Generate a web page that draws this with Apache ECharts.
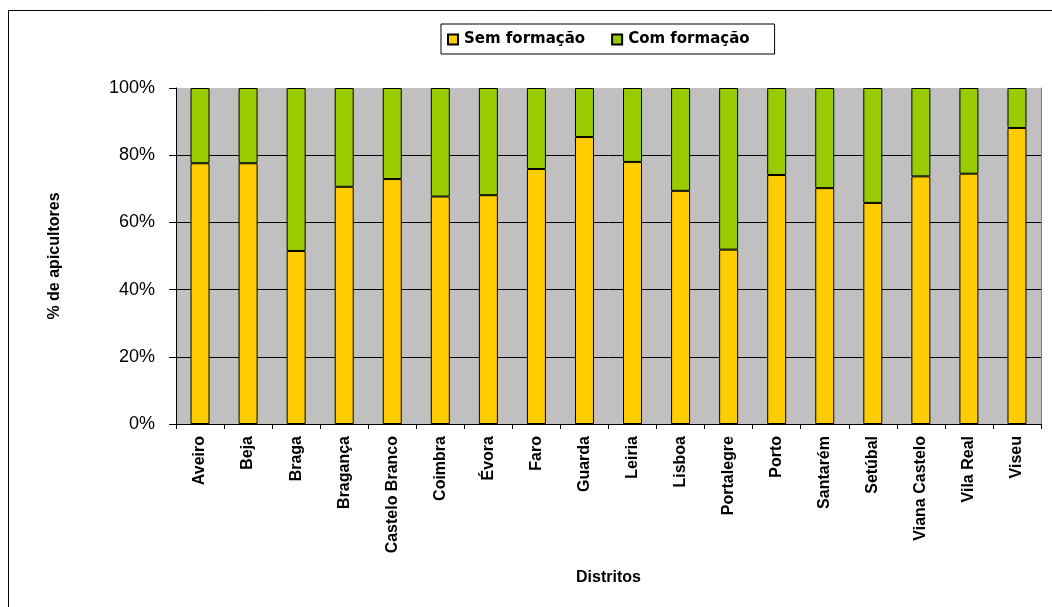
<!DOCTYPE html>
<html>
<head>
<meta charset="utf-8">
<script src="https://cdn.jsdelivr.net/npm/echarts@6/dist/echarts.min.js"></script>
<style>
  html, body { margin: 0; padding: 0; background: #fff; }
  #chart { width: 1052px; height: 607px; }
</style>
</head>
<body>
<div id="chart"></div>
<script>
// Districts and shares (%)
const districts = ['Aveiro', 'Beja', 'Braga', 'Bragança', 'Castelo Branco', 'Coimbra', 'Évora', 'Faro', 'Guarda',
    'Leiria', 'Lisboa', 'Portalegre', 'Porto', 'Santarém', 'Setúbal', 'Viana Castelo', 'Vila Real', 'Viseu'];
const semFormacao = [77.6, 77.6, 51.5, 70.6, 72.9, 67.7, 68.1, 75.9, 85.4, 78.0, 69.4, 51.9, 74.1, 70.2, 65.8, 73.7, 74.5, 88.1];
const comFormacao = [22.4, 22.4, 48.5, 29.4, 27.1, 32.3, 31.9, 24.1, 14.6, 22.0, 30.6, 48.1, 25.9, 29.8, 34.2, 26.3, 25.5, 11.9];
const yTicks = [0, 20, 40, 60, 80, 100];

const FONT = '"Liberation Sans", Arial, sans-serif';

const chart = echarts.init(document.getElementById('chart'));

chart.setOption({
    animation: false,
    graphic: [{
        type: 'rect',
        shape: { x: 8.5, y: 10.5, width: 1070, height: 620 },
        style: { fill: 'none', stroke: '#000', lineWidth: 1 },
        silent: true
    }],
    legend: {
        left: 441,
        top: 24,
        padding: [8, 25, 7, 6],
        itemWidth: 10,
        itemHeight: 10,
        itemGap: 26,
        icon: 'rect',
        borderColor: '#000',
        borderWidth: 1,
        textStyle: { fontFamily: '"DejaVu Sans", sans-serif', fontWeight: 'bold', fontSize: 15, color: '#000', padding: [0, 0, 0, 1] },
        data: ['Sem formação', 'Com formação']
    },
    grid: {
        left: 176,
        right: 11,
        top: 88,
        bottom: 183,
        show: true,
        backgroundColor: '#c0c0c0',
        borderWidth: 0
    },
    xAxis: {
        type: 'category',
        data: districts,
        name: 'Distritos',
        nameLocation: 'middle',
        nameGap: 146,
        nameTextStyle: { fontFamily: FONT, fontWeight: 'bold', fontSize: 16, color: '#000' },
        axisLine: { lineStyle: { color: '#000', width: 1 } },
        axisTick: { show: true, length: 5, lineStyle: { color: '#000' } },
        axisLabel: {
            rotate: 90,
            margin: 12,
            interval: 0,
            fontFamily: FONT,
            fontWeight: 'bold',
            fontSize: 16,
            color: '#000'
        }
    },
    yAxis: [{
        type: 'value',
        min: yTicks[0],
        max: yTicks[yTicks.length - 1],
        interval: 20,
        name: '% de apicultores',
        nameLocation: 'middle',
        nameGap: 113,
        nameTextStyle: { fontFamily: FONT, fontWeight: 'bold', fontSize: 16, color: '#000' },
        axisLine: { show: true, lineStyle: { color: '#000', width: 1 } },
        axisTick: { show: true, length: 7, lineStyle: { color: '#000' } },
        axisLabel: {
            margin: 21,
            formatter: '{value}%',
            fontFamily: FONT,
            fontSize: 18,
            color: '#000'
        },
        splitLine: { show: true, showMaxLine: false, lineStyle: { color: '#000', width: 1 } }
    }, {
        type: 'value',
        position: 'right',
        min: yTicks[0],
        max: yTicks[yTicks.length - 1],
        interval: 20,
        axisLine: { show: true, lineStyle: { color: '#808080', width: 1 } },
        axisTick: { show: false },
        axisLabel: { show: false },
        splitLine: { show: false }
    }],
    series: [
        {
            name: 'Sem formação',
            type: 'bar',
            stack: 'total',
            barWidth: 19,
            data: semFormacao,
            itemStyle: { color: '#ffcc00', borderColor: '#000', borderWidth: 1 }
        },
        {
            name: 'Com formação',
            type: 'bar',
            stack: 'total',
            barWidth: 19,
            data: comFormacao,
            itemStyle: { color: '#99cc00', borderColor: '#000', borderWidth: 1 }
        }
    ]
});
</script>
</body>
</html>
